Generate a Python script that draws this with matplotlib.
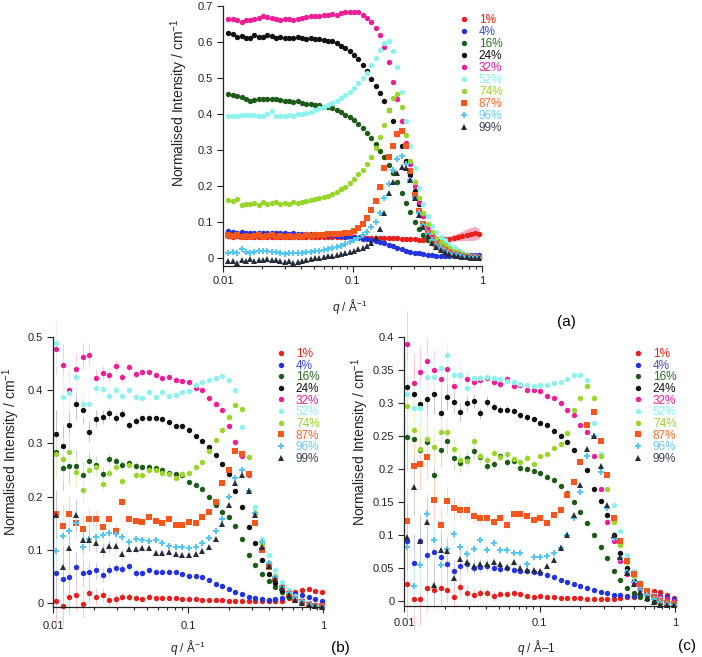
import matplotlib.pyplot as plt
from matplotlib.colors import to_rgb
from matplotlib.lines import Line2D

plt.rcParams['font.family'] = ['Liberation Sans', 'DejaVu Sans']
plt.rcParams['mathtext.fontset'] = 'custom'
plt.rcParams['mathtext.rm'] = 'Liberation Sans'
plt.rcParams['mathtext.it'] = 'Liberation Sans:italic'

# series names / colours / markers
labels = ['1%', '4%', '16%', '24%', '32%', '52%', '74%', '87%', '96%', '99%']
colors = ['#e8201c', '#2433e0', '#1d5c18', '#111111', '#ee1f96',
          '#8ef2ee', '#98d62b', '#f5561d', '#55c6f2', '#252c3a']
text_colors = ['#e8201c', '#3b4bc8', '#2a6e22', '#111111', '#e8209a',
               '#8ef0ee', '#9ad42a', '#f26a30', '#70c8f0', '#3a4250']
markers = ['o', 'o', 'o', 'o', 'o', 'o', 'o', 's', 'P', '^']

# ---------------- panel (a) ----------------
qa = [0.011, 0.0119, 0.0128, 0.0139, 0.015, 0.0162, 0.0175, 0.0189, 0.0204, 0.022,
      0.0238, 0.0257, 0.0277, 0.03, 0.0324, 0.035, 0.0378, 0.0408, 0.044, 0.0476,
      0.0514, 0.0555, 0.06, 0.0647, 0.0699, 0.0755, 0.0816, 0.0881, 0.0951, 0.103,
      0.111, 0.12, 0.129, 0.14, 0.151, 0.163, 0.176, 0.19, 0.205, 0.222,
      0.239, 0.259, 0.279, 0.302, 0.326, 0.352, 0.38, 0.41, 0.443, 0.479,
      0.517, 0.558, 0.603, 0.651, 0.703, 0.76, 0.82, 0.886, 0.95]

a_1 = [0.060, 0.058, 0.060, 0.057, 0.058, 0.060, 0.057, 0.058, 0.058, 0.057,
       0.058, 0.057, 0.058, 0.057, 0.058, 0.057, 0.057, 0.058, 0.057, 0.057,
       0.057, 0.057, 0.057, 0.057, 0.057, 0.057, 0.057, 0.057, 0.057, 0.057,
       0.057, 0.056, 0.056, 0.056, 0.056, 0.055, 0.055, 0.055, 0.054, 0.054,
       0.053, 0.053, 0.052, 0.051, 0.050, 0.050, 0.049, 0.049, 0.049, 0.050,
       0.051, 0.053, 0.055, 0.058, 0.061, 0.064, 0.066, 0.068, 0.067]
a_1_err = [0.008, 0.007, 0.005, 0.004, 0.003, 0.003, 0.002, 0.002, 0.002, 0.002,
           0.001, 0.001, 0.001, 0.001, 0.001, 0.001, 0.001, 0.001, 0.001, 0.001,
           0.001, 0.001, 0.001, 0.001, 0.001, 0.001, 0.001, 0.001, 0.001, 0.001,
           0.001, 0.001, 0.001, 0.001, 0.001, 0.001, 0.001, 0.001, 0.001, 0.001,
           0.001, 0.001, 0.001, 0.001, 0.001, 0.001, 0.001, 0.002, 0.003, 0.004,
           0.005, 0.007, 0.009, 0.011, 0.013, 0.016, 0.018, 0.019, 0.015]
a_4 = [0.073, 0.072, 0.070, 0.071, 0.069, 0.070, 0.069, 0.068, 0.070, 0.069,
       0.070, 0.068, 0.069, 0.068, 0.067, 0.068, 0.066, 0.067, 0.066, 0.065,
       0.065, 0.064, 0.063, 0.063, 0.062, 0.061, 0.060, 0.059, 0.058, 0.057,
       0.055, 0.053, 0.051, 0.049, 0.046, 0.043, 0.040, 0.036, 0.032, 0.028,
       0.024, 0.020, 0.017, 0.014, 0.012, 0.010, 0.008, 0.007, 0.006, 0.006,
       0.005, 0.005, 0.005, 0.006, 0.006, 0.007, 0.008, 0.008, 0.007]
a_16 = [0.455, 0.452, 0.450, 0.447, 0.440, 0.437, 0.438, 0.440, 0.441, 0.440,
        0.442, 0.440, 0.438, 0.435, 0.437, 0.433, 0.435, 0.430, 0.428, 0.428,
        0.425, 0.425, 0.420, 0.418, 0.415, 0.410, 0.405, 0.398, 0.390, 0.382,
        0.372, 0.360, 0.348, 0.333, 0.315, 0.298, 0.280, 0.258, 0.235, 0.210,
        0.180, 0.152, 0.128, 0.100, 0.080, 0.063, 0.050, 0.041, 0.034, 0.027,
        0.021, 0.017, 0.013, 0.010, 0.007, 0.005, 0.003, 0.002, 0.001]
a_24 = [0.625, 0.622, 0.615, 0.617, 0.612, 0.612, 0.618, 0.615, 0.614, 0.620,
        0.617, 0.612, 0.613, 0.610, 0.612, 0.610, 0.613, 0.610, 0.608, 0.610,
        0.607, 0.607, 0.605, 0.604, 0.603, 0.598, 0.590, 0.583, 0.575, 0.565,
        0.553, 0.537, 0.520, 0.498, 0.478, 0.458, 0.435, 0.410, 0.380, 0.345,
        0.310, 0.270, 0.230, 0.185, 0.150, 0.115, 0.088, 0.067, 0.051, 0.039,
        0.029, 0.021, 0.015, 0.011, 0.008, 0.005, 0.003, 0.002, 0.001]
a_32 = [0.665, 0.665, 0.660, 0.655, 0.662, 0.660, 0.665, 0.668, 0.672, 0.670,
        0.668, 0.665, 0.662, 0.665, 0.663, 0.660, 0.665, 0.668, 0.670, 0.673,
        0.672, 0.672, 0.674, 0.676, 0.678, 0.676, 0.680, 0.682, 0.683, 0.684,
        0.683, 0.676, 0.668, 0.655, 0.640, 0.620, 0.585, 0.545, 0.490, 0.440,
        0.380, 0.320, 0.260, 0.200, 0.155, 0.115, 0.085, 0.063, 0.052, 0.042,
        0.035, 0.028, 0.020, 0.015, 0.010, 0.007, 0.004, 0.002, 0.000]
a_52 = [0.395, 0.393, 0.395, 0.398, 0.398, 0.397, 0.398, 0.393, 0.395, 0.400,
        0.408, 0.395, 0.393, 0.395, 0.398, 0.395, 0.400, 0.400, 0.403, 0.405,
        0.410, 0.415, 0.420, 0.425, 0.430, 0.437, 0.445, 0.453, 0.462, 0.472,
        0.485, 0.500, 0.515, 0.535, 0.555, 0.578, 0.598, 0.603, 0.575, 0.530,
        0.460, 0.380, 0.310, 0.250, 0.195, 0.150, 0.115, 0.088, 0.072, 0.058,
        0.048, 0.038, 0.029, 0.021, 0.015, 0.010, 0.006, 0.004, 0.002]
a_74 = [0.160, 0.158, 0.162, 0.147, 0.150, 0.150, 0.152, 0.148, 0.155, 0.150,
        0.153, 0.155, 0.150, 0.152, 0.150, 0.155, 0.153, 0.155, 0.158, 0.160,
        0.162, 0.165, 0.168, 0.172, 0.178, 0.183, 0.190, 0.198, 0.208, 0.218,
        0.232, 0.245, 0.262, 0.280, 0.305, 0.335, 0.370, 0.410, 0.445, 0.455,
        0.420, 0.340, 0.270, 0.210, 0.165, 0.125, 0.095, 0.072, 0.056, 0.044,
        0.035, 0.027, 0.020, 0.015, 0.010, 0.007, 0.004, 0.002, 0.001]
a_87 = [0.062, 0.060, 0.063, 0.058, 0.060, 0.058, 0.060, 0.062, 0.058, 0.060,
        0.062, 0.058, 0.060, 0.057, 0.060, 0.058, 0.060, 0.058, 0.062, 0.060,
        0.062, 0.063, 0.064, 0.065, 0.066, 0.066, 0.067, 0.068, 0.070, 0.075,
        0.082, 0.095, 0.110, 0.132, 0.158, 0.198, 0.250, 0.280, 0.310, 0.345,
        0.352, 0.310, 0.240, 0.175, 0.130, 0.093, 0.068, 0.050, 0.037, 0.028,
        0.021, 0.016, 0.011, 0.008, 0.005, 0.003, 0.002, 0.001, 0.000]
a_96 = [0.012, 0.016, 0.013, 0.025, 0.015, 0.012, 0.016, 0.020, 0.019, 0.018,
        0.015, 0.016, 0.012, 0.010, 0.013, 0.012, 0.014, 0.013, 0.015, 0.016,
        0.018, 0.020, 0.021, 0.023, 0.026, 0.029, 0.033, 0.038, 0.043, 0.048,
        0.055, 0.062, 0.072, 0.085, 0.100, 0.125, 0.165, 0.205, 0.245, 0.275,
        0.283, 0.260, 0.215, 0.165, 0.125, 0.090, 0.066, 0.048, 0.035, 0.026,
        0.019, 0.014, 0.010, 0.007, 0.005, 0.003, 0.002, 0.001, 0.000]
a_99 = [-0.010, -0.008, -0.015, -0.005, -0.010, -0.003, -0.008, -0.006, -0.005, -0.004,
        -0.006, -0.005, -0.008, -0.012, -0.010, -0.016, -0.012, -0.008, -0.005, -0.003,
        -0.001, 0.000, 0.002, 0.004, 0.006, 0.007, 0.010, 0.013, 0.017, 0.020,
        0.024, 0.028, 0.033, 0.042, 0.055, 0.080, 0.125, 0.180, 0.210, 0.235,
        0.252, 0.250, 0.215, 0.165, 0.120, 0.085, 0.060, 0.042, 0.030, 0.021,
        0.015, 0.010, 0.007, 0.004, 0.002, 0.001, 0.000, 0.000, -0.001]

# ---------------- panels (b) and (c) share the q grid ----------------
qbc = [0.0105, 0.0118, 0.0132, 0.0148, 0.0166, 0.0186, 0.0208, 0.0233, 0.0261, 0.0292,
       0.0327, 0.0366, 0.041, 0.0459, 0.0514, 0.0576, 0.0645, 0.0722, 0.0809, 0.0906,
       0.101, 0.114, 0.127, 0.143, 0.16, 0.179, 0.2, 0.224, 0.251, 0.282,
       0.315, 0.353, 0.396, 0.443, 0.496, 0.556, 0.623, 0.697, 0.781, 0.875,
       0.98]

b_1 = [0.003, -0.005, 0.012, 0.015, -0.001, 0.018, 0.012, 0.015, 0.006, 0.007,
       0.011, 0.012, 0.010, 0.008, 0.012, 0.009, 0.010, 0.010, 0.009, 0.008,
       0.008, 0.007, 0.006, 0.006, 0.005, 0.005, 0.004, 0.004, 0.004, 0.003,
       0.003, 0.003, 0.003, 0.003, 0.004, 0.010, 0.020, 0.025, 0.026, 0.022,
       0.021]
b_4 = [0.056, 0.045, 0.049, 0.068, 0.056, 0.058, 0.062, 0.052, 0.062, 0.065,
       0.064, 0.069, 0.056, 0.056, 0.062, 0.059, 0.059, 0.059, 0.058, 0.055,
       0.051, 0.050, 0.049, 0.043, 0.036, 0.032, 0.027, 0.021, 0.016, 0.012,
       0.009, 0.007, 0.006, 0.007, 0.010, 0.014, 0.016, 0.015, 0.012, 0.008,
       0.004]
b_16 = [0.283, 0.253, 0.258, 0.258, 0.240, 0.266, 0.260, 0.243, 0.270, 0.266,
        0.260, 0.263, 0.258, 0.256, 0.255, 0.253, 0.250, 0.245, 0.243, 0.240,
        0.228, 0.222, 0.215, 0.200, 0.185, 0.172, 0.162, 0.145, 0.120, 0.090,
        0.072, 0.055, 0.042, 0.030, 0.020, 0.012, 0.006, 0.001, -0.004, -0.006,
        -0.007]
b_24 = [0.317, 0.295, 0.335, 0.374, 0.362, 0.322, 0.346, 0.350, 0.357, 0.347,
        0.355, 0.335, 0.343, 0.348, 0.348, 0.347, 0.346, 0.340, 0.333, 0.332,
        0.325, 0.314, 0.305, 0.294, 0.278, 0.262, 0.243, 0.210, 0.180, 0.143,
        0.112, 0.080, 0.055, 0.038, 0.025, 0.015, 0.008, 0.002, -0.002, -0.004,
        -0.005]
b_32 = [0.478, 0.447, 0.401, 0.439, 0.463, 0.467, 0.422, 0.432, 0.428, 0.446,
        0.424, 0.443, 0.430, 0.434, 0.434, 0.429, 0.422, 0.424, 0.420, 0.417,
        0.415, 0.405, 0.400, 0.386, 0.374, 0.362, 0.333, 0.303, 0.276, 0.240,
        0.170, 0.110, 0.075, 0.048, 0.030, 0.018, 0.010, 0.004, 0.000, -0.003,
        -0.005]
b_52 = [0.488, 0.388, 0.395, 0.424, 0.375, 0.375, 0.404, 0.403, 0.390, 0.400,
        0.390, 0.400, 0.388, 0.386, 0.397, 0.388, 0.396, 0.390, 0.391, 0.397,
        0.398, 0.410, 0.415, 0.419, 0.423, 0.426, 0.420, 0.400, 0.330, 0.275,
        0.180, 0.120, 0.090, 0.062, 0.040, 0.025, 0.014, 0.006, -0.001, -0.005,
        -0.008]
b_74 = [0.280, 0.270, 0.284, 0.246, 0.213, 0.250, 0.255, 0.224, 0.244, 0.256,
        0.230, 0.260, 0.241, 0.241, 0.250, 0.250, 0.244, 0.242, 0.235, 0.242,
        0.245, 0.255, 0.265, 0.285, 0.306, 0.325, 0.350, 0.372, 0.365, 0.275,
        0.170, 0.110, 0.075, 0.050, 0.032, 0.020, 0.010, 0.003, -0.002, -0.006,
        -0.008]
b_87 = [0.167, 0.144, 0.167, 0.151, 0.140, 0.157, 0.158, 0.142, 0.157, 0.136,
        0.190, 0.157, 0.155, 0.153, 0.161, 0.155, 0.151, 0.157, 0.147, 0.147,
        0.153, 0.150, 0.162, 0.172, 0.190, 0.225, 0.250, 0.285, 0.280, 0.243,
        0.150, 0.100, 0.068, 0.045, 0.028, 0.016, 0.008, 0.002, -0.003, -0.005,
        -0.006]
b_96 = [0.098, 0.126, 0.136, 0.150, 0.105, 0.120, 0.125, 0.128, 0.132, 0.130,
        0.124, 0.114, 0.120, 0.118, 0.116, 0.118, 0.112, 0.108, 0.106, 0.105,
        0.103, 0.105, 0.112, 0.122, 0.135, 0.158, 0.200, 0.235, 0.250, 0.210,
        0.170, 0.115, 0.075, 0.048, 0.030, 0.018, 0.010, 0.003, -0.002, -0.005,
        -0.007]
b_99 = [0.165, 0.067, 0.103, 0.166, 0.118, 0.118, 0.113, 0.100, 0.107, 0.107,
        0.092, 0.102, 0.101, 0.104, 0.103, 0.094, 0.094, 0.096, 0.092, 0.090,
        0.090, 0.093, 0.097, 0.105, 0.120, 0.148, 0.185, 0.225, 0.240, 0.210,
        0.165, 0.105, 0.070, 0.045, 0.028, 0.015, 0.006, 0.000, -0.004, -0.006,
        -0.008]
err_b = [0.045, 0.040, 0.035, 0.030, 0.025, 0.020, 0.016, 0.013, 0.011, 0.010,
         0.009, 0.008, 0.007, 0.006, 0.006, 0.005, 0.005, 0.005, 0.004, 0.004,
         0.004, 0.004, 0.004, 0.003, 0.003, 0.003, 0.003, 0.003, 0.003, 0.003,
         0.003, 0.003, 0.003, 0.003, 0.003, 0.003, 0.003, 0.003, 0.003, 0.003,
         0.003]

c_1 = [0.025, 0.002, 0.002, 0.020, 0.017, 0.019, 0.016, 0.006, 0.021, 0.012,
       0.009, 0.012, 0.012, 0.007, 0.010, 0.010, 0.011, 0.010, 0.007, 0.006,
       0.007, 0.006, 0.005, 0.004, 0.004, 0.004, 0.004, 0.003, 0.003, 0.003,
       0.003, 0.003, 0.004, 0.005, 0.006, 0.008, 0.011, 0.014, 0.013, 0.008,
       0.004]
c_4 = [0.091, 0.057, 0.091, 0.069, 0.074, 0.066, 0.055, 0.045, 0.052, 0.056,
       0.050, 0.051, 0.052, 0.050, 0.048, 0.049, 0.047, 0.045, 0.045, 0.044,
       0.042, 0.039, 0.036, 0.032, 0.029, 0.026, 0.022, 0.019, 0.016, 0.013,
       0.011, 0.009, 0.008, 0.007, 0.007, 0.008, 0.009, 0.009, 0.007, 0.005,
       0.003]
c_16 = [0.249, 0.245, 0.228, 0.240, 0.190, 0.228, 0.243, 0.216, 0.209, 0.216,
        0.227, 0.218, 0.205, 0.207, 0.220, 0.210, 0.212, 0.202, 0.200, 0.197,
        0.193, 0.188, 0.183, 0.174, 0.163, 0.150, 0.135, 0.118, 0.100, 0.082,
        0.065, 0.045, 0.032, 0.020, 0.012, 0.006, 0.002, -0.002, -0.004, -0.005,
        -0.006]
c_24 = [0.324, 0.313, 0.298, 0.306, 0.313, 0.284, 0.309, 0.301, 0.286, 0.300,
        0.303, 0.284, 0.302, 0.294, 0.290, 0.290, 0.288, 0.281, 0.278, 0.275,
        0.270, 0.266, 0.258, 0.250, 0.240, 0.228, 0.211, 0.198, 0.170, 0.152,
        0.130, 0.100, 0.073, 0.050, 0.030, 0.018, 0.010, 0.004, 0.000, -0.002,
        -0.003]
c_32 = [0.389, 0.330, 0.347, 0.364, 0.350, 0.337, 0.352, 0.326, 0.343, 0.336,
        0.332, 0.335, 0.338, 0.332, 0.328, 0.337, 0.325, 0.327, 0.320, 0.320,
        0.318, 0.310, 0.308, 0.300, 0.290, 0.282, 0.267, 0.256, 0.220, 0.170,
        0.120, 0.090, 0.060, 0.040, 0.027, 0.018, 0.012, 0.008, 0.005, 0.002,
        0.000]
c_52 = [0.314, 0.293, 0.293, 0.340, 0.340, 0.353, 0.372, 0.342, 0.343, 0.322,
        0.338, 0.338, 0.339, 0.338, 0.337, 0.333, 0.331, 0.329, 0.327, 0.325,
        0.327, 0.327, 0.330, 0.332, 0.336, 0.343, 0.342, 0.335, 0.270, 0.222,
        0.190, 0.145, 0.105, 0.070, 0.045, 0.028, 0.016, 0.008, 0.002, -0.002,
        -0.004]
c_74 = [0.296, 0.259, 0.230, 0.245, 0.233, 0.256, 0.256, 0.230, 0.213, 0.212,
        0.243, 0.220, 0.213, 0.224, 0.218, 0.222, 0.215, 0.210, 0.217, 0.208,
        0.220, 0.222, 0.232, 0.238, 0.255, 0.290, 0.308, 0.326, 0.308, 0.220,
        0.170, 0.120, 0.085, 0.058, 0.038, 0.024, 0.014, 0.006, 0.000, -0.004,
        -0.006]
c_87 = [0.121, 0.204, 0.208, 0.218, 0.153, 0.115, 0.152, 0.140, 0.138, 0.137,
        0.128, 0.126, 0.125, 0.120, 0.126, 0.115, 0.131, 0.131, 0.128, 0.122,
        0.125, 0.118, 0.130, 0.137, 0.160, 0.180, 0.210, 0.267, 0.287, 0.242,
        0.190, 0.125, 0.090, 0.060, 0.040, 0.025, 0.014, 0.006, 0.000, -0.004,
        -0.005]
c_96 = [0.081, 0.022, 0.054, 0.131, 0.092, 0.054, 0.078, 0.101, 0.081, 0.071,
        0.079, 0.092, 0.077, 0.088, 0.077, 0.077, 0.073, 0.073, 0.056, 0.066,
        0.067, 0.068, 0.073, 0.080, 0.100, 0.125, 0.165, 0.220, 0.250, 0.195,
        0.140, 0.095, 0.065, 0.043, 0.028, 0.017, 0.009, 0.003, -0.002, -0.005,
        -0.006]
c_99 = [0.097, 0.173, 0.090, 0.119, 0.024, 0.077, 0.075, 0.034, 0.064, 0.059,
        0.053, 0.055, 0.055, 0.058, 0.055, 0.051, 0.058, 0.050, 0.047, 0.046,
        0.045, 0.052, 0.062, 0.080, 0.100, 0.130, 0.175, 0.230, 0.250, 0.205,
        0.145, 0.100, 0.066, 0.042, 0.025, 0.013, 0.004, -0.002, -0.006, -0.006,
        -0.006]
err_c = [0.050, 0.045, 0.040, 0.035, 0.030, 0.025, 0.020, 0.017, 0.014, 0.012,
         0.010, 0.009, 0.008, 0.007, 0.006, 0.006, 0.005, 0.005, 0.005, 0.004,
         0.004, 0.004, 0.004, 0.003, 0.003, 0.003, 0.003, 0.003, 0.003, 0.003,
         0.003, 0.003, 0.003, 0.003, 0.003, 0.003, 0.003, 0.003, 0.003, 0.003,
         0.003]

# axis tick labels
x_ticks = [0.01, 0.1, 1]
x_ticklabels = ['0.01', '0.1', '1']
ya_ticks = [0, 0.1, 0.2, 0.3, 0.4, 0.5, 0.6, 0.7]
ya_ticklabels = ['0', '0.1', '0.2', '0.3', '0.4', '0.5', '0.6', '0.7']
yb_ticks = [0, 0.1, 0.2, 0.3, 0.4, 0.5]
yb_ticklabels = ['0', '0.1', '0.2', '0.3', '0.4', '0.5']
yc_ticks = [0, 0.05, 0.1, 0.15, 0.2, 0.25, 0.3, 0.35, 0.4]
yc_ticklabels = ['0', '0.05', '0.1', '0.15', '0.2', '0.25', '0.3', '0.35', '0.4']

W, H = 702, 657
fig = plt.figure(figsize=(W / 100, H / 100), dpi=100)

ms_list = [3.9, 3.9, 3.9, 3.9, 3.9, 3.9, 3.9, 4.0, 3.9, 4.1]


def px_axes(left, top, right, bottom):
    return fig.add_axes([left / W, 1 - bottom / H, (right - left) / W, (bottom - top) / H])


def pale(c, f=0.72):
    r, g, b = to_rgb(c)
    return (r + (1 - r) * f, g + (1 - g) * f, b + (1 - b) * f)


def style(ax, ylim, yticks, yticklabels, xlabel, ylab_xy, xlab_xy, xpad):
    ax.set_xscale('log')
    ax.set_xlim(0.01, 1)
    ax.set_ylim(*ylim)
    for s in ['top', 'right']:
        ax.spines[s].set_visible(False)
    for s in ['left', 'bottom']:
        ax.spines[s].set_linewidth(0.9)
        ax.spines[s].set_color('#222222')
    ax.set_xticks(x_ticks)
    ax.set_xticklabels(x_ticklabels)
    ax.set_yticks(yticks)
    ax.set_yticklabels(yticklabels)
    ax.tick_params(which='both', direction='out', width=0.8, colors='#222222',
                   labelsize=8, pad=3)
    ax.tick_params(axis='x', which='major', pad=xpad)
    ax.tick_params(which='major', length=4)
    ax.tick_params(which='minor', length=2.5)
    ax.set_ylabel('Normalised Intensity / cm$^{-1}$', fontsize=10, color='#222222')
    ax.set_xlabel(xlabel, fontsize=8.5, color='#222222')
    ax.yaxis.set_label_coords(*ylab_xy)
    ax.xaxis.set_label_coords(*xlab_xy)


def add_legend(ax, x, y, spacing):
    handles = [Line2D([], [], ls='none', marker=m, color=c, ms=s, mew=0)
               for m, c, s in zip(markers, colors, ms_list)]
    ax.legend(handles, labels, loc='upper left', bbox_to_anchor=(x / W, 1 - y / H),
              bbox_transform=fig.transFigure, frameon=False, fontsize=8.5,
              labelcolor=text_colors, handlelength=0.6, handletextpad=1.0,
              labelspacing=spacing, borderpad=0, borderaxespad=0)


# ---- (a)
axA = px_axes(223, 6, 482, 266)
series_a = [a_1, a_4, a_16, a_24, a_32, a_52, a_74, a_87, a_96, a_99]
axA.fill_between(qa, [v - e for v, e in zip(a_1, a_1_err)],
                 [v + e for v, e in zip(a_1, a_1_err)],
                 color='#f48aa8', alpha=0.7, lw=0, zorder=1)
for y, c, m, s in zip(series_a, colors, markers, ms_list):
    axA.plot(qa, y, ls='none', marker=m, color=c, ms=s, mew=0, clip_on=False, zorder=2)
style(axA, (-0.023, 0.7), ya_ticks, ya_ticklabels, '$q$ / Å$^{-1}$',
      (-0.128, 0.627), (0.49, -0.118), 3)
add_legend(axA, 460, 14, 0.0)
fig.text(566 / W, 1 - 322 / H, '(a)', ha='center', va='center', fontsize=11)


def draw_err_panel(ax, series, err):
    for y, c, m, s in zip(series, colors, markers, ms_list):
        ax.errorbar(qbc, y, yerr=err, fmt=m, color=c, ms=s, mew=0,
                    ecolor=pale(c), elinewidth=0.6, capsize=1.3,
                    capthick=0.6, clip_on=False)


# ---- (b)
axB = px_axes(53, 337, 323, 607)
draw_err_panel(axB, [b_1, b_4, b_16, b_24, b_32, b_52, b_74, b_87, b_96, b_99], err_b)
style(axB, (-0.0075, 0.5), yb_ticks, yb_ticklabels, '$q$ / Å$^{-1}$',
      (-0.115, 0.574), (0.5, -0.113), 6)
add_legend(axB, 277, 348, -0.03)
fig.text(340 / W, 1 - 648 / H, '(b)', ha='center', va='center', fontsize=11)

# ---- (c)
axC = px_axes(404, 337, 675, 606)
draw_err_panel(axC, [c_1, c_4, c_16, c_24, c_32, c_52, c_74, c_87, c_96, c_99], err_c)
style(axC, (-0.008, 0.4), yc_ticks, yc_ticklabels, '$q$ / Å–1',
      (-0.12, 0.61), (0.49, -0.118), 5)
add_legend(axC, 634, 348, -0.03)
fig.text(687 / W, 1 - 646 / H, '(c)', ha='center', va='center', fontsize=11)

fig.savefig('out.png', dpi=100)
